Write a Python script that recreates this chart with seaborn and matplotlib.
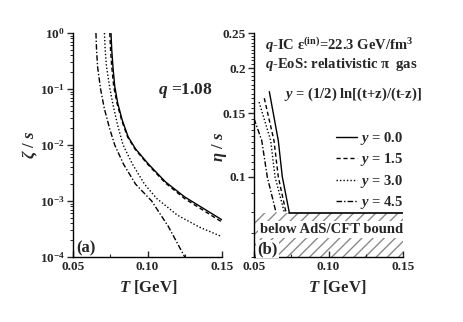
import numpy as np
import matplotlib
matplotlib.use("Agg")
import matplotlib.pyplot as plt
import seaborn as sns
from matplotlib.ticker import FixedLocator, FixedFormatter, NullFormatter, LogLocator, MultipleLocator

# ---------------- data ----------------
# panel (a): zeta/s vs T
T_a_y00 = [0.0755, 0.0760, 0.0768, 0.0780, 0.0800, 0.0830, 0.0870, 0.0920, 0.1005, 0.1120, 0.1250, 0.1500]
zeta_y00 = [1.0, 0.50, 0.25, 0.112, 0.056, 0.028, 0.014, 0.0085, 0.0046, 0.0022, 0.00118, 0.00046]
T_a_y15 = [0.0747, 0.0752, 0.0760, 0.0773, 0.0795, 0.0826, 0.0866, 0.0917, 0.1002, 0.1120, 0.1250, 0.1500]
zeta_y15 = [1.0, 0.50, 0.25, 0.112, 0.056, 0.028, 0.014, 0.0084, 0.0045, 0.0021, 0.00110, 0.00042]
T_a_y30 = [0.0711, 0.0716, 0.0725, 0.0748, 0.0770, 0.0800, 0.0836, 0.0900, 0.0980, 0.1060, 0.1200, 0.1350, 0.1500]
zeta_y30 = [1.0, 0.50, 0.25, 0.10, 0.050, 0.0224, 0.010, 0.0045, 0.0020, 0.00112, 0.00056, 0.00034, 0.00023]
T_a_y45 = [0.0654, 0.0658, 0.0665, 0.0685, 0.0710, 0.0745, 0.0780, 0.0840, 0.0920, 0.1028, 0.1140, 0.1250]
zeta_y45 = [1.0, 0.50, 0.25, 0.10, 0.045, 0.020, 0.010, 0.0045, 0.0020, 0.0010, 0.00035, 0.0001]

# panel (b): eta/s vs T
T_b_y00 = [0.0603, 0.0663, 0.0690, 0.0737]
eta_y00 = [0.172, 0.126, 0.100, 0.0796]
T_b_y15 = [0.0569, 0.0634, 0.0663, 0.0715]
eta_y15 = [0.165, 0.126, 0.100, 0.0796]
T_b_y30 = [0.0534, 0.0612, 0.0641, 0.0704]
eta_y30 = [0.161, 0.126, 0.100, 0.0796]
T_b_y45 = [0.0500, 0.0552, 0.0589, 0.0648]
eta_y45 = [0.145, 0.126, 0.100, 0.0796]

kss_bound = 1.0 / (4.0 * np.pi)
bound_T = [0.0737, 0.15]
bound_eta = [kss_bound, kss_bound]

legend_labels = [r"$y$ = 0.0", r"$y$ = 1.5", r"$y$ = 3.0", r"$y$ = 4.5"]
x_ticks = [0.05, 0.10, 0.15]
x_ticklabels = ["0.05", "0.10", "0.15"]
eta_ticks = [0.1, 0.15, 0.2, 0.25]
eta_ticklabels = ["0.1", "0.15", "0.2", "0.25"]

# ---------------- style ----------------
sns.set_style("ticks")
plt.rcParams["font.family"] = ["Liberation Serif", "DejaVu Serif"]
plt.rcParams["font.weight"] = "bold"
plt.rcParams["axes.labelweight"] = "bold"
plt.rcParams["mathtext.fontset"] = "custom"
plt.rcParams["mathtext.rm"] = "Liberation Serif:bold"
plt.rcParams["mathtext.it"] = "Liberation Serif:italic:bold"
plt.rcParams["mathtext.bf"] = "Liberation Serif:bold"

styles = ["-", (0, (3, 2)), (0, (1, 1.5)), (0, (4, 1.5, 1, 1.5))]

fig = plt.figure(figsize=(4.63, 3.22), dpi=100)
ax1 = fig.add_axes([73 / 463, 65 / 322, 149 / 463, 224 / 322])
ax2 = fig.add_axes([254 / 463, 65 / 322, 149 / 463, 224 / 322])

# ---------------- panel (a) ----------------
Ta = [T_a_y00, T_a_y15, T_a_y30, T_a_y45]
Za = [zeta_y00, zeta_y15, zeta_y30, zeta_y45]
for t, z, ls in zip(Ta, Za, styles):
    sns.lineplot(x=t, y=z, ax=ax1, color="black", lw=1.0, linestyle=ls, legend=False)
ax1.set_yscale("log")
ax1.set_xlim(0.05, 0.15)
ax1.set_ylim(1e-4, 1.0)
ax1.yaxis.set_major_locator(LogLocator(base=10, numticks=10))
ax1.yaxis.set_minor_locator(LogLocator(base=10, subs=np.arange(2, 10), numticks=20))
ax1.yaxis.set_minor_formatter(NullFormatter())

ax1.text(0.752, 0.742, r"$q$ =1.08", transform=ax1.transAxes, ha="center", va="center", fontsize=12.5)
ax1.text(0.02, 0.04, "(a)", transform=ax1.transAxes, ha="left", va="center", fontsize=12)

ax1.set_ylabel(r"$\zeta$ / $s$", fontsize=12)
ax1.set_xlabel(r"$T$ [GeV]", fontsize=12)
ax1.yaxis.set_label_coords(-0.22, 0.5)
ax1.xaxis.set_label_coords(0.505, -0.094)

# ---------------- panel (b) ----------------
ax2.fill_between([0.05, 0.15], [0.06, 0.06], [kss_bound, kss_bound],
                 facecolor="white", edgecolor="#8a8a8a", hatch="///", linewidth=0, zorder=0)
Tb = [T_b_y00, T_b_y15, T_b_y30, T_b_y45]
Eb = [eta_y00, eta_y15, eta_y30, eta_y45]
for t, e, ls, lab in zip(Tb, Eb, styles, legend_labels):
    sns.lineplot(x=t, y=e, ax=ax2, color="black", lw=1.0, linestyle=ls, label=lab)
sns.lineplot(x=bound_T, y=bound_eta, ax=ax2, color="black", lw=1.2, legend=False)

ax2.set_yscale("log")
ax2.set_xlim(0.05, 0.15)
ax2.set_ylim(0.06, 0.25)
ax2.yaxis.set_major_locator(FixedLocator(eta_ticks))
ax2.yaxis.set_major_formatter(FixedFormatter(eta_ticklabels))
minor_eta = [round(v, 3) for v in list(np.arange(0.06, 0.1, 0.01)) + list(np.arange(0.105, 0.25, 0.005))]
ax2.yaxis.set_minor_locator(FixedLocator(minor_eta))
ax2.yaxis.set_minor_formatter(NullFormatter())

leg = ax2.legend(loc="upper right", bbox_to_anchor=(1.0, 0.567), frameon=False,
                 fontsize=10.5, handlelength=1.5, handletextpad=0.15, labelspacing=0.3,
                 borderpad=0, borderaxespad=0)

ax2.text(0.074, 0.922, r"$q$-IC ε$^{\rm (in)}$=22.3 GeV/fm$^{3}$", transform=ax2.transAxes,
         ha="left", va="baseline", fontsize=10.5, clip_on=False)
ax2.text(0.074, 0.843, r"$q$-EoS: relativistic π  gas", transform=ax2.transAxes,
         ha="left", va="baseline", fontsize=10.5)
ax2.text(0.201, 0.711, r"$y$ = (1/2) ln[(t+z)/(t-z)]", transform=ax2.transAxes,
         ha="left", va="baseline", fontsize=10.5)
ax2.text(0.04, 0.107, "below AdS/CFT bound", transform=ax2.transAxes, ha="left", va="baseline",
         fontsize=10.5, bbox=dict(facecolor="white", edgecolor="none", pad=1.5))
ax2.text(0.025, 0.036, "(b)", transform=ax2.transAxes, ha="left", va="center", fontsize=12,
         bbox=dict(facecolor="white", edgecolor="none", pad=1.0))

ax2.set_ylabel(r"$\eta$ / $s$", fontsize=12)
ax2.set_xlabel(r"$T$ [GeV]", fontsize=12)
ax2.yaxis.set_label_coords(-0.168, 0.49)
ax2.xaxis.set_label_coords(0.56, -0.094)

# ---------------- common axes styling ----------------
for ax in (ax1, ax2):
    ax.set_xticks(x_ticks)
    ax.set_xticklabels(x_ticklabels)
    ax.xaxis.set_minor_locator(MultipleLocator(0.025))
    for side in ("top", "right"):
        ax.spines[side].set_visible(False)
    for side in ("left", "bottom"):
        ax.spines[side].set_linewidth(1.0)
        ax.spines[side].set_color("black")
    ax.tick_params(axis="x", which="major", direction="in", length=4, width=1, labelsize=9.5, pad=3)
    ax.tick_params(axis="x", which="minor", direction="in", length=2.5, width=0.8)
    ax.tick_params(axis="y", which="major", direction="out", length=4, width=1, labelsize=9.5, pad=2)
    ax.tick_params(axis="y", which="minor", direction="out", length=2, width=0.7)
    for lbl in ax.get_xticklabels() + ax.get_yticklabels():
        lbl.set_fontweight("bold")

fig.savefig("out.png", dpi=100)
